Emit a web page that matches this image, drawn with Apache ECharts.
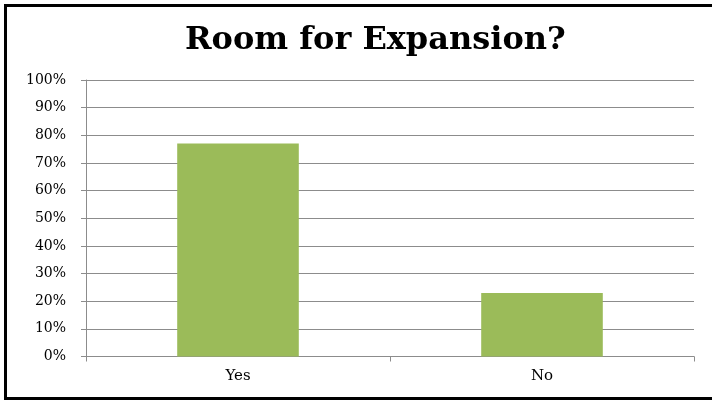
<!DOCTYPE html>
<html>
<head>
<meta charset="utf-8">
<script src="https://cdn.jsdelivr.net/npm/echarts@6/dist/echarts.min.js"></script>
<style>
  html, body { margin: 0; padding: 0; background: #ffffff; }
  #chart { width: 712px; height: 402px; }
</style>
</head>
<body>
<div id="chart"></div>
<script>
// Survey answers and their share of respondents (%)
const categories = ['Yes', 'No'];
const shares = [77, 23];
const yTicks = [0, 10, 20, 30, 40, 50, 60, 70, 80, 90, 100];

const serif = 'Georgia, "DejaVu Serif", "Liberation Serif", serif';
const chart = echarts.init(document.getElementById('chart'), null, { renderer: 'canvas' });

chart.setOption({
  animation: false,
  backgroundColor: '#ffffff',
  title: {
    text: 'Room for Expansion?',
    left: 180,
    top: 20,
    textStyle: { fontFamily: serif, fontWeight: 'bold', fontSize: 32, color: '#000000' }
  },
  // Frame along the top, left and bottom edges
  graphic: [{
    type: 'polyline',
    shape: { points: [[720, 5.5], [5.5, 5.5], [5.5, 398.5], [720, 398.5]] },
    style: { fill: 'none', stroke: '#000000', lineWidth: 3 },
    z: 100
  }],
  grid: { left: 86, right: 18, top: 80, bottom: 45.5, containLabel: false },
  xAxis: {
    type: 'category',
    data: categories,
    boundaryGap: true,
    axisLine: { lineStyle: { color: '#8c8c8c', width: 1 } },
    axisTick: { show: true, length: 5, alignWithLabel: false, lineStyle: { color: '#8c8c8c' } },
    axisLabel: { fontFamily: serif, fontSize: 15, color: '#000000', margin: 12 }
  },
  yAxis: {
    type: 'value',
    min: yTicks[0],
    max: yTicks[yTicks.length - 1],
    interval: 10,
    axisLine: { show: true, lineStyle: { color: '#8c8c8c', width: 1 } },
    axisTick: { show: true, length: 5, lineStyle: { color: '#8c8c8c' } },
    axisLabel: { fontFamily: serif, fontSize: 14, color: '#000000', margin: 20, formatter: '{value}%' },
    splitLine: { show: true, lineStyle: { color: '#8c8c8c', width: 1 } }
  },
  series: [{
    type: 'bar',
    data: shares,
    barWidth: '40%',
    itemStyle: { color: '#9bbb59' }
  }]
});
</script>
</body>
</html>
